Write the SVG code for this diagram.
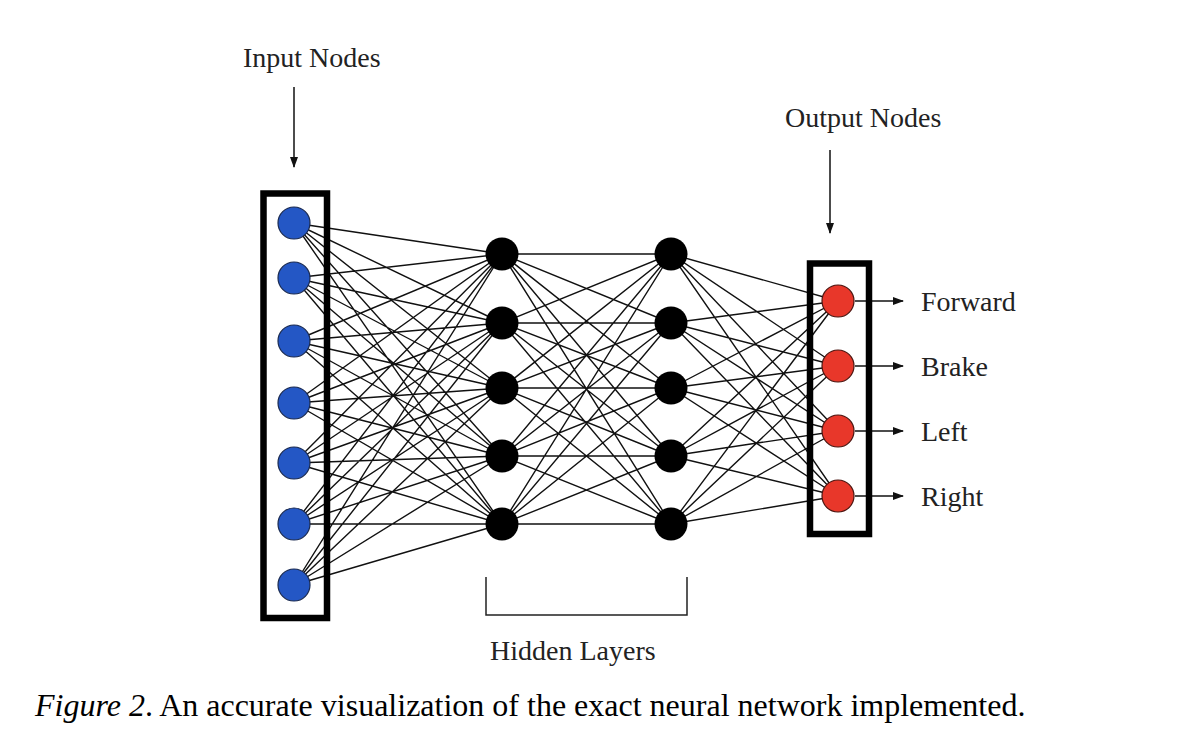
<svg xmlns="http://www.w3.org/2000/svg" width="1192" height="752" viewBox="0 0 1192 752">
<style>
.t{font-family:"Liberation Serif","Times New Roman",serif;font-size:28px;fill:#222}
.c{font-family:"Liberation Serif","Times New Roman",serif;font-size:32px;fill:#000}
.e{stroke:#111;stroke-width:1.4;fill:none}
.a{stroke:#111;stroke-width:1.5;fill:none;marker-end:url(#ah)}
.box{fill:none;stroke:#000;stroke-width:6.5}
.in{fill:#2457c5;stroke:#1a2a50;stroke-width:1.2}
.hd{fill:#000}
.out{fill:#e8372a;stroke:#4a1510;stroke-width:1.2}
</style>
<defs>
<marker id="ah" markerWidth="11" markerHeight="8" refX="10" refY="4" orient="auto" markerUnits="userSpaceOnUse">
<path d="M0,0 L11,4 L0,8 Z" fill="#111"/>
</marker>
</defs>
<rect width="1192" height="752" fill="#fff"/>
<g id="connectors">
<g id="in-h1">
<path class="e" d="M294,223L502,254M294,223L502,323M294,223L502,388M294,223L502,456M294,223L502,524
M294,278L502,254M294,278L502,323M294,278L502,388M294,278L502,456M294,278L502,524
M294,341L502,254M294,341L502,323M294,341L502,388M294,341L502,456M294,341L502,524
M294,403L502,254M294,403L502,323M294,403L502,388M294,403L502,456M294,403L502,524
M294,463L502,254M294,463L502,323M294,463L502,388M294,463L502,456M294,463L502,524
M294,524L502,254M294,524L502,323M294,524L502,388M294,524L502,456M294,524L502,524
M294,585L502,254M294,585L502,323M294,585L502,388M294,585L502,456M294,585L502,524"/>
</g>
<g id="h1-h2">
<path class="e" d="M502,254L671,254M502,254L671,323M502,254L671,388M502,254L671,456M502,254L671,524
M502,323L671,254M502,323L671,323M502,323L671,388M502,323L671,456M502,323L671,524
M502,388L671,254M502,388L671,323M502,388L671,388M502,388L671,456M502,388L671,524
M502,456L671,254M502,456L671,323M502,456L671,388M502,456L671,456M502,456L671,524
M502,524L671,254M502,524L671,323M502,524L671,388M502,524L671,456M502,524L671,524"/>
</g>
<g id="h2-out">
<path class="e" d="M671,254L838,301M671,254L838,366M671,254L838,431M671,254L838,496
M671,323L838,301M671,323L838,366M671,323L838,431M671,323L838,496
M671,388L838,301M671,388L838,366M671,388L838,431M671,388L838,496
M671,456L838,301M671,456L838,366M671,456L838,431M671,456L838,496
M671,524L838,301M671,524L838,366M671,524L838,431M671,524L838,496"/>
</g>
<g id="out-arrows">
<line class="a" x1="855" y1="301" x2="903" y2="301"/>
<line class="a" x1="855" y1="366" x2="903" y2="366"/>
<line class="a" x1="855" y1="431" x2="903" y2="431"/>
<line class="a" x1="855" y1="496" x2="903" y2="496"/>
</g>
<g id="label-arrows">
<line class="a" x1="294" y1="87" x2="294" y2="167"/>
<line class="a" x1="830" y1="150" x2="830" y2="233"/>
</g>
</g>
<g id="input-layer">
<rect class="box" x="263.5" y="193.5" width="63.5" height="424.5"/>
<circle id="i1" class="in" cx="294" cy="223" r="16"/>
<circle id="i2" class="in" cx="294" cy="278" r="16"/>
<circle id="i3" class="in" cx="294" cy="341" r="16"/>
<circle id="i4" class="in" cx="294" cy="403" r="16"/>
<circle id="i5" class="in" cx="294" cy="463" r="16"/>
<circle id="i6" class="in" cx="294" cy="524" r="16"/>
<circle id="i7" class="in" cx="294" cy="585" r="16"/>
</g>
<g id="hidden-layer-1">
<circle id="h1a" class="hd" cx="502" cy="254" r="16.5"/>
<circle id="h1b" class="hd" cx="502" cy="323" r="16.5"/>
<circle id="h1c" class="hd" cx="502" cy="388" r="16.5"/>
<circle id="h1d" class="hd" cx="502" cy="456" r="16.5"/>
<circle id="h1e" class="hd" cx="502" cy="524" r="16.5"/>
</g>
<g id="hidden-layer-2">
<circle id="h2a" class="hd" cx="671" cy="254" r="16.5"/>
<circle id="h2b" class="hd" cx="671" cy="323" r="16.5"/>
<circle id="h2c" class="hd" cx="671" cy="388" r="16.5"/>
<circle id="h2d" class="hd" cx="671" cy="456" r="16.5"/>
<circle id="h2e" class="hd" cx="671" cy="524" r="16.5"/>
</g>
<g id="output-layer">
<rect class="box" x="810" y="263.5" width="59" height="270.5"/>
<circle id="o1" class="out" cx="838" cy="301" r="16"/>
<circle id="o2" class="out" cx="838" cy="366" r="16"/>
<circle id="o3" class="out" cx="838" cy="431" r="16"/>
<circle id="o4" class="out" cx="838" cy="496" r="16"/>
</g>
<g id="hidden-bracket">
<path d="M486,577V615H687V577" fill="none" stroke="#222" stroke-width="1.5"/>
</g>
<g id="labels">
<text class="t" x="243" y="67">Input Nodes</text>
<text class="t" x="785" y="127">Output Nodes</text>
<text class="t" x="921" y="311">Forward</text>
<text class="t" x="921" y="376">Brake</text>
<text class="t" x="921" y="441">Left</text>
<text class="t" x="921" y="506">Right</text>
<text class="t" x="490" y="660">Hidden Layers</text>
<text class="c" x="35" y="716"><tspan font-style="italic">Figure 2</tspan>. An accurate visualization of the exact neural network implemented.</text>
</g>
</svg>
